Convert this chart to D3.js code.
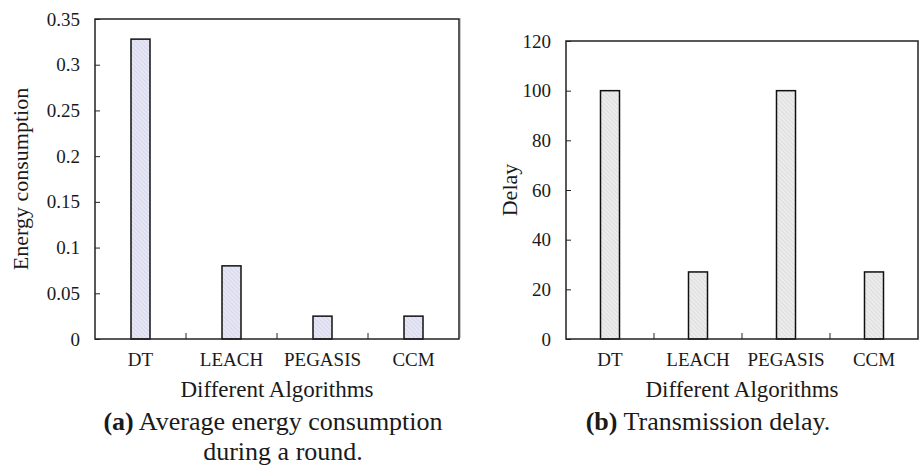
<!DOCTYPE html>
<meta charset="utf-8">
<script src="https://cdn.jsdelivr.net/npm/d3@7"></script>
<style>
  body { margin: 0; background: #fff; }
  text { font-family: "Liberation Serif", "Times New Roman", serif; fill: #1a1a1a; }
</style>
<body>
<script>

// Data.
var algorithms = ["DT", "LEACH", "PEGASIS", "CCM"];
var energy = [0.328, 0.08, 0.025, 0.025];
var delay = [100, 27, 100, 27];
var energyTicks = [0, 0.05, 0.1, 0.15, 0.2, 0.25, 0.3, 0.35];
var delayTicks = [0, 20, 40, 60, 80, 100, 120];

var svg = d3.select("body").append("svg")
    .attr("width", 919)
    .attr("height", 467);

// Hatch patterns for the bars.
var defs = svg.append("defs");
function hatch(id, bg, line) {
  var p = defs.append("pattern")
      .attr("id", id)
      .attr("patternUnits", "userSpaceOnUse")
      .attr("width", 3).attr("height", 3)
      .attr("patternTransform", "rotate(-45)");
  p.append("rect").attr("width", 3).attr("height", 3).attr("fill", bg);
  p.append("line").attr("x1", 0).attr("y1", 0).attr("x2", 0).attr("y2", 3)
      .attr("stroke", line).attr("stroke-width", 1);
}
hatch("hatchA", "#e6e6f6", "#c9c9de");
hatch("hatchB", "#ececec", "#cfcfcf");

// Light separator between the panels.
svg.append("line")
    .attr("x1", 460.5).attr("x2", 460.5)
    .attr("y1", 18).attr("y2", 338)
    .attr("stroke", "#c8c8c8").attr("stroke-width", 1);

function panel(opt) {
  var g = svg.append("g").attr("transform", "translate(" + opt.left + "," + opt.top + ")");
  var w = opt.width, h = opt.height;

  var x = d3.scaleBand().domain(algorithms).range([0, w]);
  var y = d3.scaleLinear().domain(opt.domain).range([h, 0]);

  // bars
  g.selectAll(".bar")
      .data(opt.values)
    .enter().append("rect")
      .attr("class", "bar")
      .attr("x", function(d, i) { return x(algorithms[i]) + x.bandwidth() / 2 - 9.5; })
      .attr("width", 19)
      .attr("y", function(d) { return y(d); })
      .attr("height", function(d) { return h - y(d); })
      .attr("fill", "url(#" + opt.pattern + ")")
      .attr("stroke", "#111")
      .attr("stroke-width", 1.5);

  // y axis (ticks inside)
  var yAxis = g.append("g")
      .call(d3.axisLeft(y).tickValues(opt.ticks).tickSize(-5).tickPadding(15)
        .tickFormat(function(d) { return String(d); }));
  yAxis.select(".domain").remove();
  yAxis.selectAll("line").attr("stroke", "#222");
  yAxis.selectAll("text").attr("font-size", "19px").attr("fill", "#1a1a1a")
      .attr("font-family", "Liberation Serif");

  // x ticks between categories, pointing up
  var between = algorithms.slice(1).map(function(a) { return x(a); });
  g.selectAll(".xtick")
      .data(between)
    .enter().append("line")
      .attr("x1", function(d) { return d; }).attr("x2", function(d) { return d; })
      .attr("y1", h).attr("y2", h - 6)
      .attr("stroke", "#222");

  // category labels
  g.selectAll(".cat")
      .data(algorithms)
    .enter().append("text")
      .attr("x", function(d) { return x(d) + x.bandwidth() / 2; })
      .attr("y", 366 - opt.top)
      .attr("text-anchor", "middle")
      .attr("font-size", "19px")
      .text(function(d) { return d; });

  // frame
  g.append("rect")
      .attr("width", w).attr("height", h)
      .attr("fill", "none")
      .attr("stroke", "#222").attr("stroke-width", 1.5);

  // axis titles
  g.append("text")
      .attr("x", w / 2)
      .attr("y", 397 - opt.top)
      .attr("text-anchor", "middle")
      .attr("font-size", "23px")
      .text("Different Algorithms");

  g.append("text")
      .attr("transform", "translate(" + (opt.ylabelX - opt.left) + "," + (h / 2) + ") rotate(-90)")
      .attr("text-anchor", "middle")
      .attr("font-size", "22px")
      .text(opt.ylabel);

  // caption
  var cap = svg.append("text")
      .attr("x", opt.capX)
      .attr("y", 430)
      .attr("text-anchor", "middle")
      .attr("font-size", "26px");
  cap.append("tspan").attr("font-weight", "bold").text(opt.capTag);
  cap.append("tspan").text(" " + opt.caption[0]);
  if (opt.caption[1]) {
    svg.append("text")
        .attr("x", opt.capX + 10)
        .attr("y", 460)
        .attr("text-anchor", "middle")
        .attr("font-size", "26px")
        .text(opt.caption[1]);
  }
}

panel({
  left: 95, top: 19, width: 364, height: 320,
  domain: [0, 0.35], ticks: energyTicks, values: energy,
  pattern: "hatchA", ylabel: "Energy consumption", ylabelX: 28,
  capX: 273, capTag: "(a)", caption: ["Average energy consumption", "during a round."]
});

panel({
  left: 566, top: 41, width: 352, height: 298,
  domain: [0, 120], ticks: delayTicks, values: delay,
  pattern: "hatchB", ylabel: "Delay", ylabelX: 517,
  capX: 708, capTag: "(b)", caption: ["Transmission delay."]
});

</script>
</body>
</html>
